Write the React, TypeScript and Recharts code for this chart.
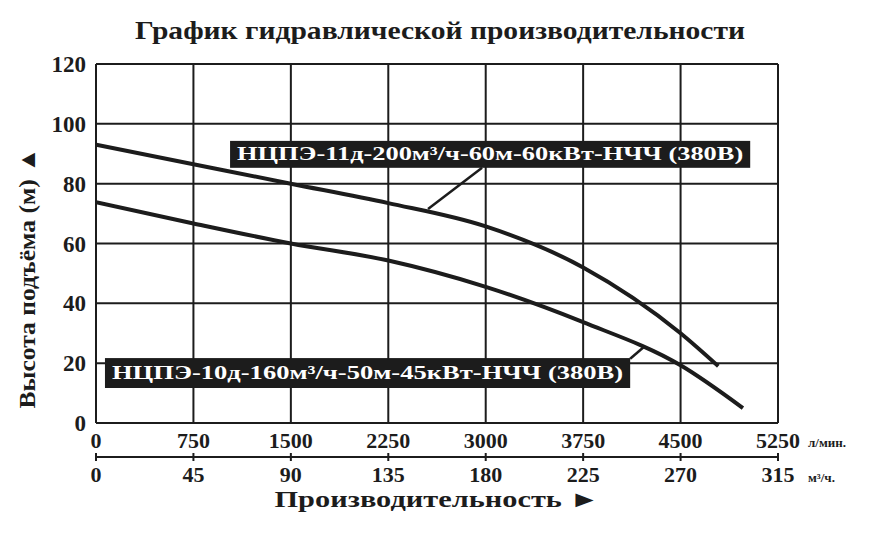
import {
  CartesianGrid,
  Line,
  LineChart,
  ReferenceArea,
  ReferenceLine,
  XAxis,
  YAxis,
} from 'recharts';

// Напорные характеристики, расход в л/мин, напор в м
const pump60Flow = [0, 750, 1500, 2250, 3000, 3750, 4500, 4790];
const pump60Head = [93, 86.5, 80, 73.5, 65.7, 52, 30, 19];

const pump50Flow = [0, 750, 1500, 2250, 3000, 3750, 4500, 4980];
const pump50Head = [73.8, 66.7, 60, 54.3, 45.5, 33.7, 19.3, 5];

const flowTicksLpm = [0, 750, 1500, 2250, 3000, 3750, 4500, 5250];
const flowTicksM3 = [0, 45, 90, 135, 180, 225, 270, 315];
const headTicks = [0, 20, 40, 60, 80, 100, 120];

const pump60Name = 'НЦПЭ-11д-200м³/ч-60м-60кВт-НЧЧ (380В)';
const pump50Name = 'НЦПЭ-10д-160м³/ч-50м-45кВт-НЧЧ (380В)';

const pump60 = pump60Flow.map((flow, i) => ({ flow, head: pump60Head[i] }));
const pump50 = pump50Flow.map((flow, i) => ({ flow, head: pump50Head[i] }));

const W = 885;
const H = 546;
const INK = '#1c1c1c';
const SERIF = "'Liberation Serif', 'Times New Roman', Times, serif";
const bold = { fontFamily: SERIF, fontWeight: 700 };

const LpmTick = ({ x, y, payload }: any) => (
  <g>
    <text x={x} y={y + 25} textAnchor="middle" fill={INK} style={{ ...bold, fontSize: 22 }}>
      {payload.value}
    </text>
    {payload.value === 5250 ? (
      <text x={x + 30} y={y + 24} fill={INK} style={{ ...bold, fontSize: 13 }}>
        л/мин.
      </text>
    ) : null}
  </g>
);

const M3Tick = ({ x, y, payload }: any) => (
  <g>
    <line x1={x} x2={x} y1={y - 4} y2={y + 4} stroke={INK} strokeWidth={2} />
    <text x={x} y={y + 25} textAnchor="middle" fill={INK} style={{ ...bold, fontSize: 22 }}>
      {payload.value}
    </text>
    {payload.value === 315 ? (
      <text x={x + 30} y={y + 25} fill={INK} style={{ ...bold, fontSize: 13 }}>
        м³/ч.
      </text>
    ) : null}
  </g>
);

const HeadTick = ({ x, y, payload }: any) => (
  <text x={x} y={y + 8} textAnchor="end" fill={INK} style={{ ...bold, fontSize: 23 }}>
    {payload.value}
  </text>
);

const nameTag = (text: string) => (props: any) => {
  const { x, y, width, height } = props;
  return (
    <g>
      <rect x={x} y={y} width={width} height={height} fill={INK} />
      <text
        x={x + width / 2}
        y={y + height / 2 + 6}
        textAnchor="middle"
        fill="#fff"
        style={{ ...bold, fontSize: 19 }}
        textLength={width - 14}
        lengthAdjust="spacingAndGlyphs"
      >
        {text}
      </text>
    </g>
  );
};

export default function App() {
  return (
    <div style={{ position: 'absolute', left: 0, top: 0, width: W, height: H, background: '#fff' }}>
      <LineChart width={W} height={H} margin={{ top: 64, right: 107, bottom: 20, left: 0 }}>
        <CartesianGrid stroke={INK} strokeWidth={2} />
        <XAxis
          type="number"
          dataKey="flow"
          domain={[0, 5250]}
          ticks={flowTicksLpm}
          allowDataOverflow
          height={34}
          axisLine={false}
          tickLine={false}
          tickSize={0}
          tickMargin={0}
          tick={<LpmTick />}
          interval={0}
        />
        <XAxis
          xAxisId="m3"
          type="number"
          dataKey="flow"
          domain={[0, 315]}
          ticks={flowTicksM3}
          allowDataOverflow
          height={69}
          axisLine={{ stroke: INK, strokeWidth: 2 }}
          tickLine={false}
          tickSize={0}
          tickMargin={0}
          tick={<M3Tick />}
          interval={0}
        />
        <YAxis
          type="number"
          domain={[0, 120]}
          ticks={headTicks}
          allowDataOverflow
          width={96}
          axisLine={false}
          tickLine={false}
          tickSize={0}
          tickMargin={10}
          tick={<HeadTick />}
          interval={0}
        />
        <ReferenceArea x1={1032} x2={5036} y1={85.3} y2={94.3} ifOverflow="visible" shape={nameTag(pump60Name)} />
        <ReferenceArea x1={69} x2={4112} y1={11.7} y2={21.7} ifOverflow="visible" shape={nameTag(pump50Name)} />
        <ReferenceLine segment={[{ x: 2972, y: 85.3 }, { x: 2556, y: 71.5 }]} stroke={INK} strokeWidth={2.5} />
        <ReferenceLine segment={[{ x: 4112, y: 21.5 }, { x: 4215, y: 25.3 }]} stroke={INK} strokeWidth={2.5} />
        <Line data={pump60} dataKey="head" type="monotone" stroke={INK} strokeWidth={4} dot={false} isAnimationActive={false} />
        <Line data={pump50} dataKey="head" type="monotone" stroke={INK} strokeWidth={4} dot={false} isAnimationActive={false} />
      </LineChart>
      <svg width={W} height={H} style={{ position: 'absolute', left: 0, top: 0, pointerEvents: 'none' }}>
        <text
          x={440}
          y={39}
          textAnchor="middle"
          fill={INK}
          style={{ ...bold, fontSize: 26 }}
          textLength={610}
          lengthAdjust="spacingAndGlyphs"
        >
          График гидравлической производительности
        </text>
        <text
          x={437}
          y={507}
          textAnchor="middle"
          fill={INK}
          style={{ ...bold, fontSize: 23 }}
          textLength={325}
          lengthAdjust="spacingAndGlyphs"
        >
          Производительность ►
        </text>
        <text
          transform="translate(35 278) rotate(-90)"
          textAnchor="middle"
          fill={INK}
          style={{ ...bold, fontSize: 23 }}
          textLength={261}
          lengthAdjust="spacingAndGlyphs"
        >
          Высота подъёма (м) ▲
        </text>
      </svg>
    </div>
  );
}
